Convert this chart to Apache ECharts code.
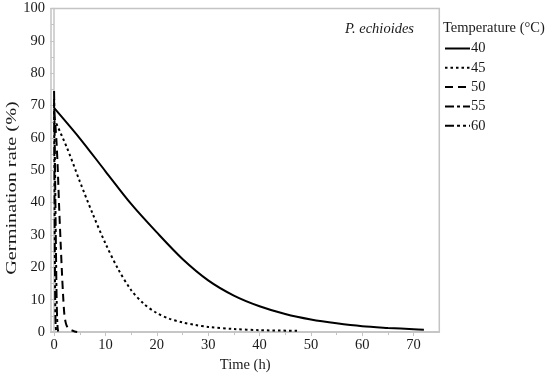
<!DOCTYPE html>
<html>
<head>
<meta charset="utf-8">
<script src="https://cdn.jsdelivr.net/npm/echarts@6/dist/echarts.min.js"></script>
<style>
html,body{margin:0;padding:0;background:#fff;}
#c{width:550px;height:378px;}
</style>
</head>
<body>
<div id="c"></div>
<script>
// ---- data ----
const seriesNames = ['40', '45', '50', '55', '60'];
const t40 = [0, 5, 10, 15, 20, 25, 30, 35, 40, 45, 50, 55, 60, 65, 70, 72];
const v40 = [69.3, 59.9, 49.7, 39.6, 30.8, 22.6, 16.0, 11.3, 8.0, 5.6, 3.9, 2.7, 1.8, 1.3, 0.9, 0.75];
const t45 = [0, 2.5, 5, 7.5, 10, 12.5, 15, 17.5, 20, 22.5, 25, 27.5, 30, 35, 40, 47.5];
const v45 = [66, 57, 46.6, 36.6, 27.4, 19.4, 13, 8.7, 5.9, 4.1, 3.0, 2.2, 1.6, 0.95, 0.6, 0.4];
const t50 = [0, 0.25, 0.5, 0.75, 1, 1.25, 1.5, 1.75, 2, 2.25, 2.5, 3, 3.5, 4, 4.5];
const v50 = [68, 64, 58, 49, 38, 28.5, 19.5, 11.5, 5.5, 3, 1.8, 0.9, 0.5, 0.2, 0.05];
const t55 = [0, 0.1, 0.2, 0.3, 0.4, 0.5, 0.6, 0.7, 0.8];
const v55 = [74.5, 62, 48, 34, 21, 10, 4, 1.2, 0.2];
const t60 = [0, 0.05, 0.1, 0.15, 0.2, 0.25, 0.3, 0.4];
const v60 = [72, 55, 38, 24, 13, 6, 2.5, 0.3];
const xTicks = [0, 10, 20, 30, 40, 50, 60, 70];
const xMinorTicks = [5, 15, 25, 35, 45, 55, 65];

const times = [t40, t45, t50, t55, t60];
const vals = [v40, v45, v50, v55, v60];
const dashTypes = ['solid', [2.5, 3], [8, 5], [9, 3, 3, 3], [9, 3, 3, 3, 3, 3]];

const FONT = '"Liberation Serif", "Times New Roman", serif';
const AXC = '#c4c4c4';
const TXT = '#1a1a1a';

const chart = echarts.init(document.getElementById('c'), null, {renderer: 'canvas'});

const series = seriesNames.map((name, i) => ({
  name: name,
  type: 'line',
  data: times[i].map((t, j) => [t, vals[i][j]]),
  showSymbol: false,
  symbol: 'none',
  smooth: 0.3,
  lineStyle: {color: '#000', width: 2, type: dashTypes[i]},
  itemStyle: {color: '#000'},
  xAxisIndex: 0,
  yAxisIndex: 0,
  animation: false
}));

chart.setOption({
  animation: false,
  grid: {left: 51, right: 110.7, top: 8.5, bottom: 42, show: true, borderColor: AXC, borderWidth: 1.5, backgroundColor: 'transparent'},
  title: [{
    text: 'P. echioides', left: 340, top: 17,
    textStyle: {fontFamily: FONT, fontStyle: 'italic', fontWeight: 'normal', fontSize: 14.5, color: TXT}
  }, {
    text: 'Temperature (°C)', left: 438, top: 16,
    textStyle: {fontFamily: FONT, fontWeight: 'normal', fontSize: 14.5, color: TXT}
  }],
  legend: {
    orient: 'vertical', left: 439, top: 36,
    itemWidth: 25, itemHeight: 14, itemGap: 4.3,
    data: seriesNames,
    itemStyle: {opacity: 0},
    textStyle: {fontFamily: FONT, fontSize: 14.5, color: TXT, padding: [0, 0, 0, -4]},
    selectedMode: false
  },
  xAxis: [{
    type: 'value', min: -0.6, max: 75, position: 'bottom',
    name: 'Time (h)', nameLocation: 'middle', nameGap: 25,
    nameTextStyle: {fontFamily: FONT, fontSize: 14.5, color: TXT},
    axisLine: {show: true, lineStyle: {color: AXC, width: 1.5}},
    axisTick: {show: true, length: 4, inside: false, customValues: xTicks, lineStyle: {color: AXC}},
    axisLabel: {customValues: xTicks, margin: 6, fontFamily: FONT, fontSize: 14.5, color: TXT},
    splitLine: {show: false}
  }, {
    type: 'value', min: -0.6, max: 75, position: 'bottom',
    axisLine: {show: false},
    axisTick: {show: true, length: 3, inside: false, customValues: xMinorTicks, lineStyle: {color: AXC}},
    axisLabel: {show: false},
    splitLine: {show: false}
  }],
  yAxis: {
    type: 'value', min: 0, max: 100, interval: 10,
    axisLine: {show: true, lineStyle: {color: AXC, width: 1.5}},
    axisTick: {show: true, length: 4, lineStyle: {color: AXC}},
    minorTick: {show: true, splitNumber: 2, length: 3, lineStyle: {color: AXC}},
    axisLabel: {margin: 6, fontFamily: FONT, fontSize: 14.5, color: TXT},
    splitLine: {show: false}
  },
  graphic: [{
    type: 'text', x: 12, y: 188, rotation: Math.PI / 2, scaleX: 1.4,
    style: {text: 'Germination rate (%)', fontFamily: FONT, fontSize: 14.5, fill: TXT, textAlign: 'center', textVerticalAlign: 'middle'}
  }],
  series: series
});
</script>
</body>
</html>
